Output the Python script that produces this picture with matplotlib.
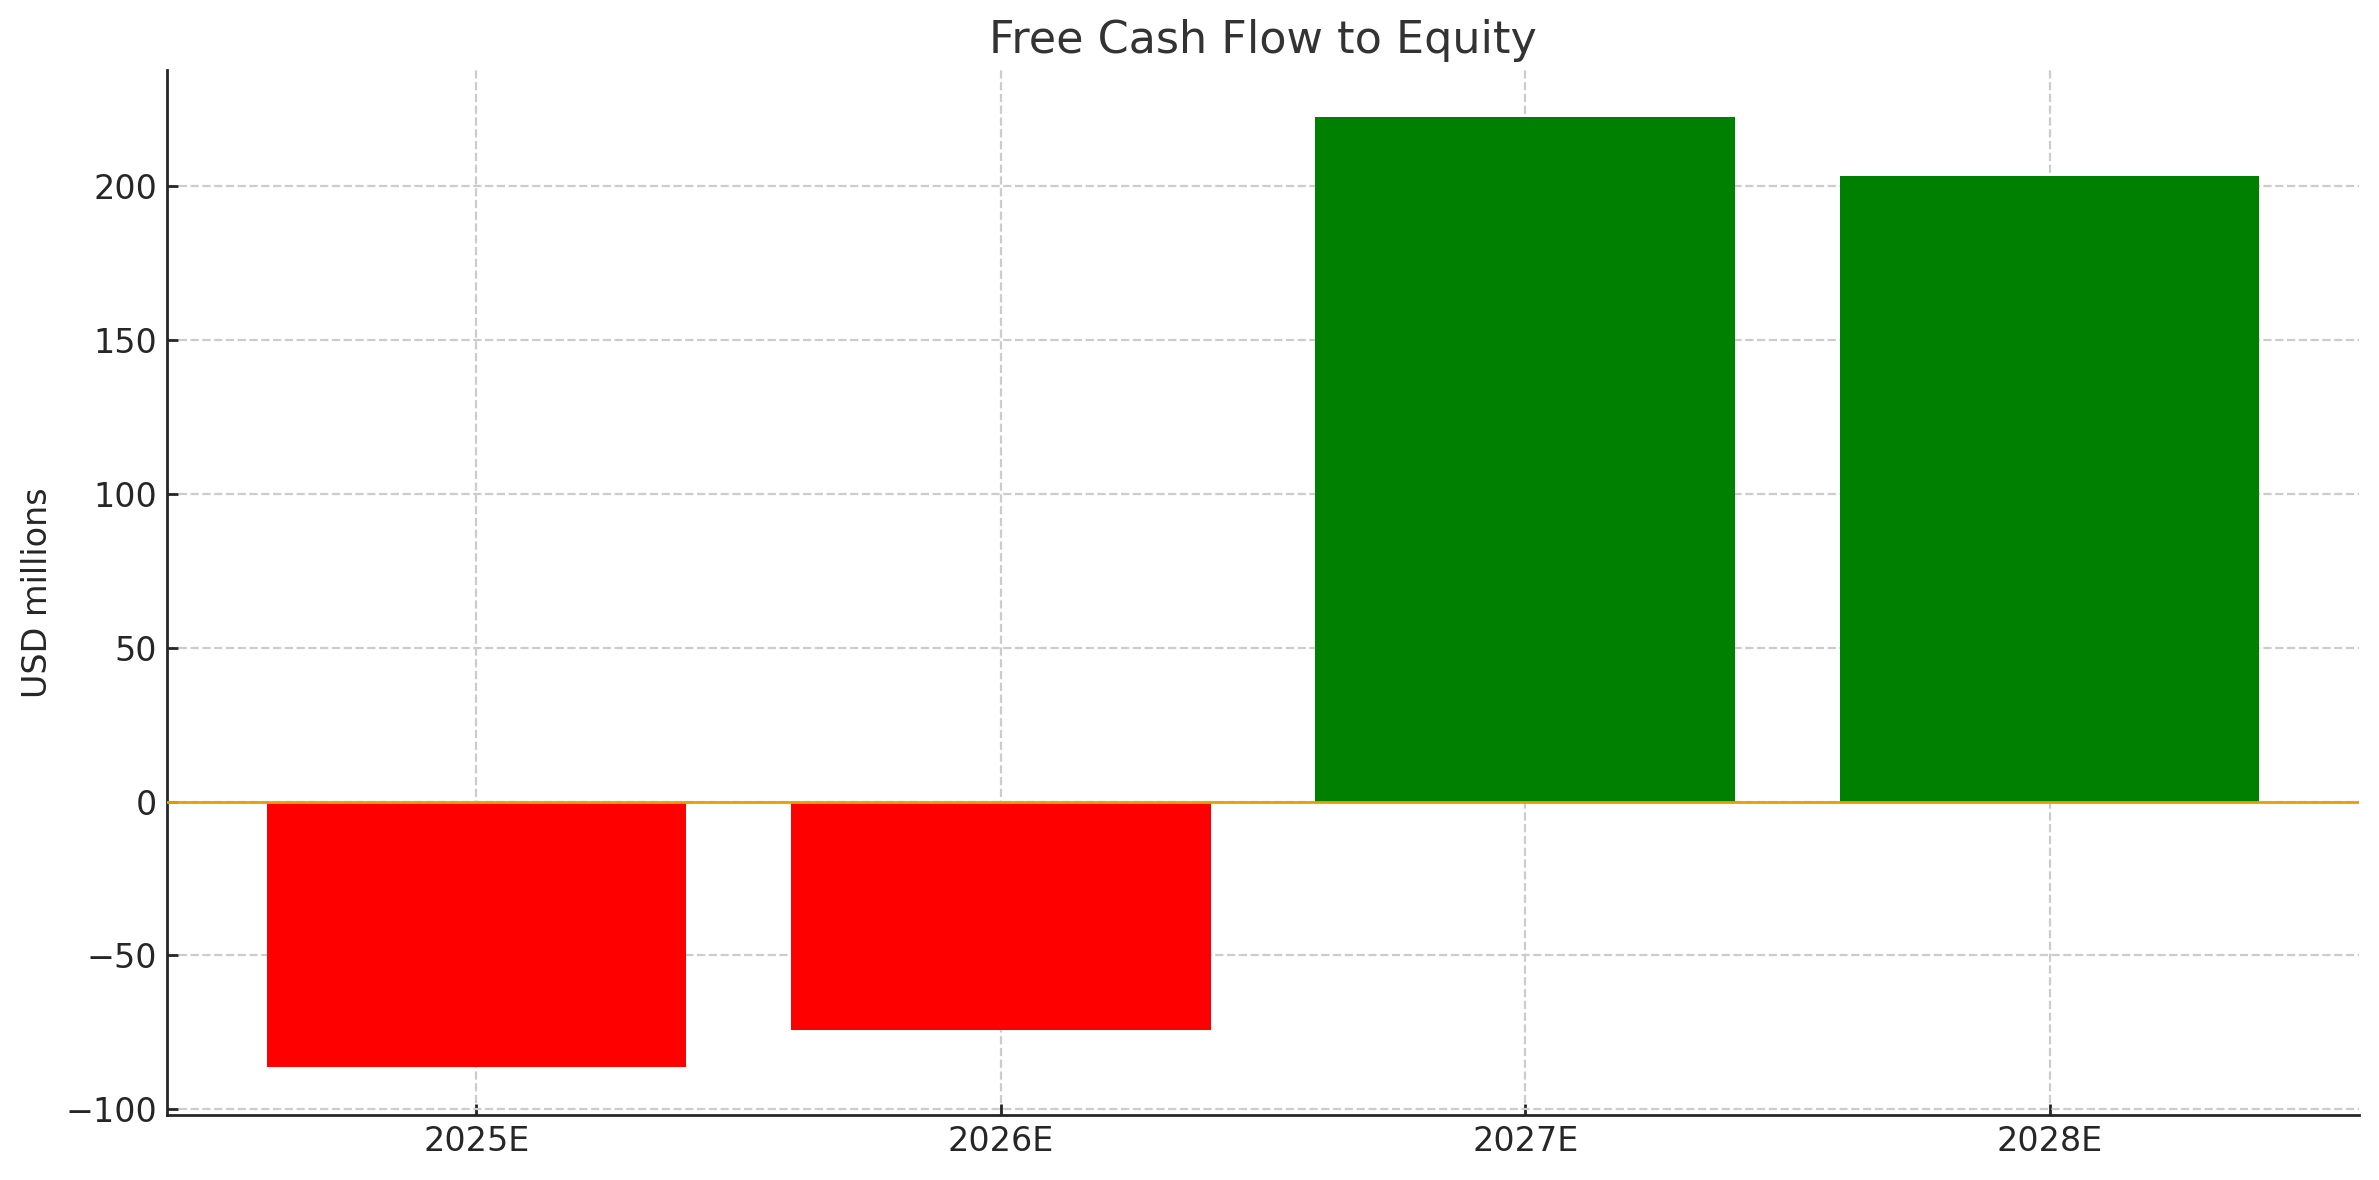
import matplotlib
matplotlib.use("Agg")
import matplotlib.pyplot as plt

categories = ["2025E", "2026E", "2027E", "2028E"]
fcfe = [-86.4, -74.2, 222.2, 203.1]
yticks = [-100, -50, 0, 50, 100, 150, 200]

colors = ["green" if v >= 0 else "red" for v in fcfe]

plt.rcParams['font.family'] = ['DejaVu Sans']
fig = plt.figure(figsize=(11.895, 5.9), dpi=200)
ax = fig.add_axes([0.0702, 0.0551, 0.9214, 0.8856])

x = list(range(len(categories)))
ax.bar(x, fcfe, width=0.8, color=colors, zorder=2)
ax.axhline(0, color="#E6A000", linewidth=1.0, zorder=3)

ax.set_xticks(x)
ax.set_xticklabels(categories)
ax.set_yticks(yticks)
ax.set_yticklabels([f"\u2212{abs(t)}" if t < 0 else str(t) for t in yticks])

ax.grid(True, linestyle="--", color="#cccccc", linewidth=0.8, zorder=0)
ax.set_axisbelow(True)
for s in ["top", "right"]:
    ax.spines[s].set_visible(False)
for s in ["left", "bottom"]:
    ax.spines[s].set_color("#262626")
    ax.spines[s].set_linewidth(1.0)

ax.tick_params(axis="both", direction="in", length=4, width=1.0,
               labelsize=12, colors="#262626", labelcolor="#262626")
ax.set_ylabel("USD millions", fontsize=12, color="#262626")
ax.set_title("Free Cash Flow to Equity", fontsize=16, color="#333333")

fig.savefig("out.png", dpi=200)
